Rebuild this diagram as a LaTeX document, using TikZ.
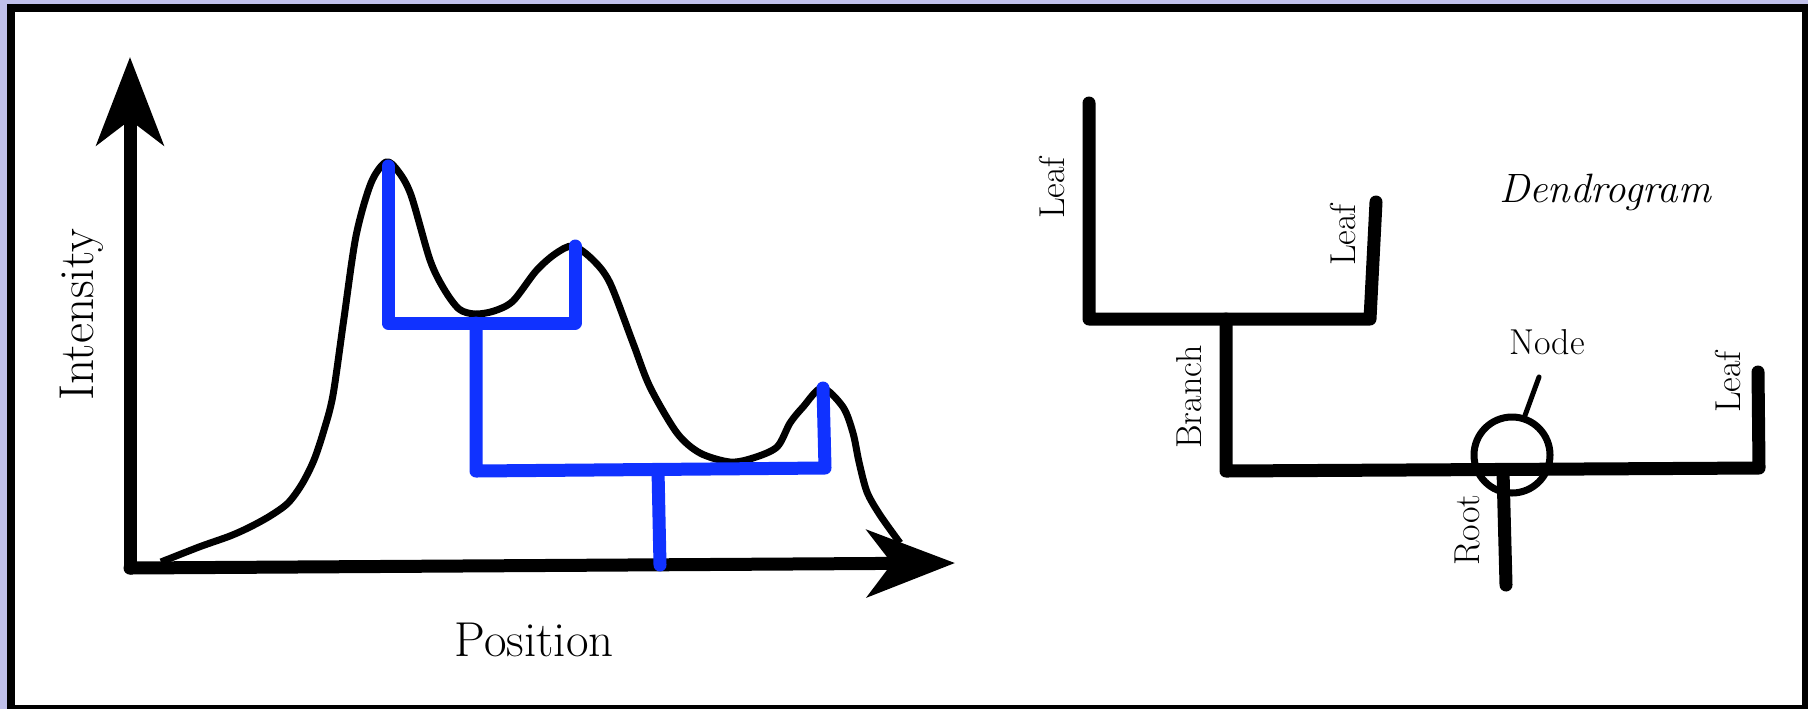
\documentclass[tikz,border=0pt]{standalone}
\usepackage{tikz}
\usetikzlibrary{arrows.meta,positioning}
\definecolor{FrameLilac}{RGB}{192,192,234}
\definecolor{TreeBlue}{RGB}{16,50,255}

\begin{document}
\begin{tikzpicture}[x=0.5pt,y=-0.5pt,>={Stealth[length=44pt,width=33.5pt,inset=12.5pt]},
    heavy/.style={line width=6.5pt,line cap=round,line join=round},
    lbl/.style={font=\fontsize{18}{21}\selectfont,inner sep=0pt},
    biglbl/.style={font=\fontsize{24.5}{29}\selectfont,inner sep=0pt}]
        \fill[FrameLilac] (0,0) rectangle (1808,709);
        \fill[black] (7,4) rectangle (1808,709);
        \fill[white] (15,12) rectangle (1802,705);
        % spectrum
        \draw[line width=3.5pt,line join=round] plot[smooth,tension=0.5] coordinates {
          (161,562) (199,547) (230,536) (250,527) (270,516) (288,503) (302,484) (314,460)
          (324,430) (333,395) (344,318) (356,236) (371,183) (386,162) (398,171) (411,195)
          (430,260) (444,289) (459,309) (475,314) (494,311) (513,301) (536,271) (555,254)
          (573,246) (593,260) (610,283) (633,343) (650,387) (677,433) (700,453) (730,462)
          (753,458) (777,447) (790,423) (803,407) (822,388) (843,407) (853,433) (859,462)
          (867,492) (880,515) (900,543)};
        \coordinate (O) at (130,568);
        \coordinate (ytip) at (130,57);
        \coordinate (xtip) at (955,563);
        \draw[heavy,->] (O) -- (ytip);
        \draw[heavy,->] (O) -- (xtip);
        \node[biglbl,rotate=90] (intensity) at (82,315) {Intensity};
        \node[biglbl] (position) at (534,640) {Position};
        % blue tree on the peaks
        \coordinate (p1) at (388,166);
        \coordinate (p1b) at (388,323);
        \coordinate (p2b) at (575,323);
        \coordinate (p2) at (575,246);
        \coordinate (m1) at (476,323);
        \coordinate (m1b) at (476,471);
        \coordinate (p3b) at (825,468);
        \coordinate (p3) at (823,388);
        \coordinate (r1) at (658,470);
        \coordinate (r1b) at (660,565);
        \draw[heavy,TreeBlue] (p1) -- (p1b) -- (p2b) -- (p2);
        \draw[heavy,TreeBlue] (m1) -- (m1b) -- (p3b) -- (p3);
        \draw[heavy,TreeBlue] (r1) -- (r1b);
        % dendrogram
        \coordinate (a1) at (1089,103);
        \coordinate (a1b) at (1089,319);
        \coordinate (a2b) at (1370,319);
        \coordinate (a2) at (1376,202);
        \coordinate (b1) at (1226,319);
        \coordinate (b1b) at (1226,471);
        \coordinate (c3b) at (1759,468);
        \coordinate (c3) at (1758,372);
        \coordinate (rt) at (1503,471);
        \coordinate (rtb) at (1506,585);
        \coordinate (ptr) at (1539,377);
        \draw[heavy] (a1) -- (a1b) -- (a2b) -- (a2);
        \draw[heavy] (b1) -- (b1b) -- (c3b) -- (c3);
        \draw[heavy] (rt) -- (rtb);
        \node[draw,circle,line width=3.5pt,minimum size=38pt,inner sep=0pt,outer sep=0pt] (hub) at (1512,455) {};
        \draw[line width=2.5pt,line cap=round] (hub.72) -- (ptr);
        \node[lbl,rotate=90] (leafA) at (1052,188) {Leaf};
        \node[lbl,rotate=90] (leafB) at (1343,235) {Leaf};
        \node[lbl,rotate=90] (branch) at (1189,397) {Branch};
        \node[lbl] (nodetxt) at (1547,342) {Node};
        \node[lbl,rotate=90] (leafC) at (1728,382) {Leaf};
        \node[lbl,rotate=90] (root) at (1467,530) {Root};
        \node[font=\fontsize{20.5}{24}\selectfont\itshape,inner sep=0pt] (title) at (1605,192) {Dendrogram};
\end{tikzpicture}
\end{document}
